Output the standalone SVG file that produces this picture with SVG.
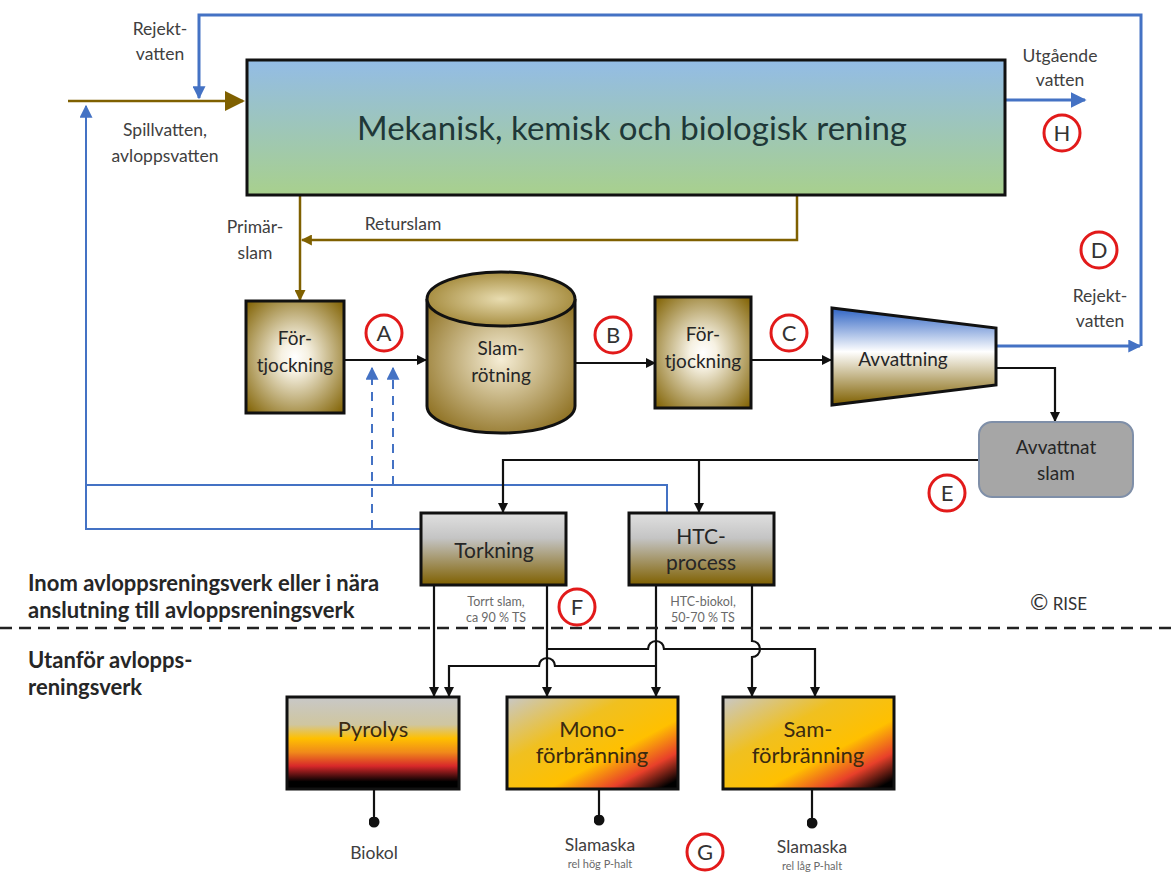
<svg xmlns="http://www.w3.org/2000/svg" width="1174" height="872" viewBox="0 0 1174 872">
<style>
  .lbl{font-family:Lato,"Open Sans","Liberation Sans",sans-serif;font-size:17.5px;fill:#404040;text-anchor:middle}
  .node{font-family:Lato,"Open Sans","Liberation Sans",sans-serif;font-size:19px;fill:#262626;text-anchor:middle}
  .nodeL{font-family:Lato,"Open Sans","Liberation Sans",sans-serif;font-size:21px;fill:#262626;text-anchor:middle}
  .nodeXL{font-family:Lato,"Open Sans","Liberation Sans",sans-serif;font-size:22px;fill:#3a2a10;text-anchor:middle}
  .small{font-family:Lato,"Open Sans","Liberation Sans",sans-serif;font-size:12.5px;fill:#6a6a6a;text-anchor:middle}
  .tiny{font-family:Lato,"Open Sans","Liberation Sans",sans-serif;font-size:11px;fill:#6a6a6a;text-anchor:middle}
  .zone{font-family:Lato,"Open Sans","Liberation Sans",sans-serif;font-size:22px;font-weight:bold;fill:#262626}
  .tag{fill:#ffffff;stroke:#e21a1a;stroke-width:3}
  .tagt{font-family:Lato,"Open Sans","Liberation Sans",sans-serif;font-size:22px;fill:#333;text-anchor:middle}
  .blk{fill:none;stroke:#111;stroke-width:2.2}
  .brn{fill:none;stroke:#7f6000;stroke-width:2.5}
  .blu{fill:none;stroke:#4472c4;stroke-width:3}
  .blu2{fill:none;stroke:#4472c4;stroke-width:2}
  .box{stroke:#111;stroke-width:3}
</style>
<defs>
  <marker id="ab" viewBox="0 0 10 10" refX="9" refY="5" markerWidth="10" markerHeight="10" markerUnits="userSpaceOnUse" orient="auto"><path d="M0,0 L10,5 L0,10 z" fill="#111"/></marker>
  <marker id="abr" viewBox="0 0 10 10" refX="9" refY="5" markerWidth="11" markerHeight="11" markerUnits="userSpaceOnUse" orient="auto"><path d="M0,0 L10,5 L0,10 z" fill="#7f6000"/></marker>
  <marker id="abrBig" viewBox="0 0 10 10" refX="9" refY="5" markerWidth="20" markerHeight="20" markerUnits="userSpaceOnUse" orient="auto"><path d="M0,0 L10,5 L0,10 z" fill="#7f6000"/></marker>
  <marker id="abl" viewBox="0 0 10 10" refX="9" refY="5" markerWidth="13" markerHeight="13" markerUnits="userSpaceOnUse" orient="auto"><path d="M0,0 L10,5 L0,10 z" fill="#4472c4"/></marker>
  <marker id="ablBig" viewBox="0 0 10 10" refX="9" refY="5" markerWidth="16" markerHeight="16" markerUnits="userSpaceOnUse" orient="auto"><path d="M0,0 L10,5 L0,10 z" fill="#4472c4"/></marker>
  <marker id="dot" viewBox="0 0 10 10" refX="5" refY="5" markerWidth="11" markerHeight="11" markerUnits="userSpaceOnUse"><circle cx="5" cy="5" r="5" fill="#111"/></marker>
  <linearGradient id="gMain" x1="0" y1="0" x2="0" y2="1"><stop offset="0" stop-color="#93bce6"/><stop offset="1" stop-color="#a8d08d"/></linearGradient>
  <radialGradient id="gThick" cx="0.5" cy="0.5" r="0.7"><stop offset="0" stop-color="#ffffff"/><stop offset="0.2" stop-color="#f6f1e2"/><stop offset="1" stop-color="#7f6000"/></radialGradient>
  <radialGradient id="gCyl" cx="0.5" cy="0.45" r="0.65"><stop offset="0" stop-color="#f6eed6"/><stop offset="1" stop-color="#8c6e1e"/></radialGradient>
  <radialGradient id="gCylTop" cx="0.5" cy="0.5" r="0.6"><stop offset="0" stop-color="#e8dcb0"/><stop offset="1" stop-color="#9b7f2c"/></radialGradient>
  <linearGradient id="gAvv" x1="0" y1="0" x2="0" y2="1"><stop offset="0" stop-color="#2f64c4"/><stop offset="0.45" stop-color="#ffffff"/><stop offset="1" stop-color="#7f6000"/></linearGradient>
  <linearGradient id="gDry" x1="0" y1="0" x2="0" y2="1"><stop offset="0" stop-color="#e0e0e0"/><stop offset="0.35" stop-color="#c4c4c4"/><stop offset="1" stop-color="#7f6000"/></linearGradient>
  <linearGradient id="gPyr" x1="0" y1="0" x2="0" y2="1"><stop offset="0" stop-color="#c8c8c8"/><stop offset="0.3" stop-color="#cfc6a0"/><stop offset="0.45" stop-color="#ffc000"/><stop offset="0.6" stop-color="#f08a1a"/><stop offset="0.75" stop-color="#d8282a"/><stop offset="0.92" stop-color="#000000"/><stop offset="1" stop-color="#000000"/></linearGradient>
  <linearGradient id="gBurn" x1="0" y1="0" x2="1" y2="1"><stop offset="0" stop-color="#c8c8c8"/><stop offset="0.35" stop-color="#f0c020"/><stop offset="0.62" stop-color="#ffc000"/><stop offset="0.8" stop-color="#e8402a"/><stop offset="0.95" stop-color="#000000"/><stop offset="1" stop-color="#000000"/></linearGradient>
</defs>

<!-- connectors -->
<g id="connectors">
  <path class="brn" d="M68,101 H243" stroke-width="6" marker-end="url(#abrBig)"/>
  <path class="blu" d="M1141,346 V15 H199 V98" marker-end="url(#abl)"/>
  <path class="blu" d="M1005,100 H1085" stroke-width="4" marker-end="url(#ablBig)"/>
  <path class="blu" d="M996,346 H1140" marker-end="url(#abl)"/>
  <path class="blu2" d="M420,529 H86 V106" marker-end="url(#abl)"/>
  <path class="blu2" d="M86,485 H667 V514"/>
  <path class="blu2" d="M372,529 V368" stroke-dasharray="9,7" marker-end="url(#abl)"/>
  <path class="blu2" d="M393,485 V368" stroke-dasharray="9,7" marker-end="url(#abl)"/>
  <path class="brn" d="M300,195 V300" stroke-width="3" marker-end="url(#abr)"/>
  <path class="brn" d="M797,195 V240 H302" stroke-width="2" marker-end="url(#abr)"/>
  <path class="blk" d="M344,360 H426" marker-end="url(#ab)"/>
  <path class="blk" d="M575,363 H655" marker-end="url(#ab)"/>
  <path class="blk" d="M751,360 H831" marker-end="url(#ab)"/>
  <path class="blk" d="M996,368 H1055 V421" marker-end="url(#ab)"/>
  <path class="blk" d="M979,460 H503 V512" marker-end="url(#ab)"/>
  <path class="blk" d="M699,460 V512" marker-end="url(#ab)"/>
  <path class="blk" d="M434,585 V696" marker-end="url(#ab)"/>
  <path class="blk" d="M547,585 V696" marker-end="url(#ab)"/>
  <path class="blk" d="M547,649 H648 a8,8 0 0 1 16,0 H815 V696" marker-end="url(#ab)"/>
  <path class="blk" d="M656,585 V696" marker-end="url(#ab)"/>
  <path class="blk" d="M656,666 H555 a8,8 0 0 0 -16,0 H449 V696" marker-end="url(#ab)"/>
  <path class="blk" d="M752,585 V641 a8,8 0 0 1 0,16 V696" marker-end="url(#ab)"/>
  <path class="blk" d="M374,789 V822" marker-end="url(#dot)"/>
  <path class="blk" d="M599,789 V820" marker-end="url(#dot)"/>
  <path class="blk" d="M812,789 V823" marker-end="url(#dot)"/>
  <path d="M0,628 H1174" stroke="#222" stroke-width="2.5" stroke-dasharray="12,7" fill="none"/>
</g>

<!-- nodes -->
<g id="main">
  <rect x="247" y="60" width="758" height="135" fill="url(#gMain)" class="box" stroke-width="3.5"/>
  <text x="632" y="140" font-family="Lato,'Open Sans','Liberation Sans',sans-serif" font-size="33" fill="#1f3838" text-anchor="middle">Mekanisk, kemisk och biologisk rening</text>
</g>
<g id="fortjockning1">
  <rect x="246" y="301" width="98" height="112" fill="url(#gThick)" class="box"/>
  <text class="node" x="295" y="345">För-</text>
  <text class="node" x="295" y="372">tjockning</text>
</g>
<g id="slamrotning">
  <path d="M427,299 V406 A74,27 0 0 0 575,406 V299" fill="url(#gCyl)" stroke="#111" stroke-width="3"/>
  <ellipse cx="501" cy="299" rx="74" ry="27" fill="url(#gCylTop)" stroke="#111" stroke-width="3"/>
  <text class="node" x="501" y="355">Slam-</text>
  <text class="node" x="501" y="382">rötning</text>
</g>
<g id="fortjockning2">
  <rect x="655" y="297" width="96" height="111" fill="url(#gThick)" class="box"/>
  <text class="node" x="703" y="341">För-</text>
  <text class="node" x="703" y="368">tjockning</text>
</g>
<g id="avvattning">
  <path d="M832,308 L996,328 V385 L832,405 Z" fill="url(#gAvv)" stroke="#111" stroke-width="3"/>
  <text class="node" x="903" y="366">Avvattning</text>
</g>
<g id="avvattnatslam">
  <rect x="979" y="422" width="154" height="75" rx="13" fill="#a6a6a6" stroke="#7f8fa8" stroke-width="2"/>
  <text class="node" x="1056" y="454">Avvattnat</text>
  <text class="node" x="1056" y="480">slam</text>
</g>
<g id="torkning">
  <rect x="421" y="513" width="145" height="72" fill="url(#gDry)" class="box"/>
  <text class="nodeL" x="494" y="558">Torkning</text>
</g>
<g id="htc">
  <rect x="629" y="513" width="145" height="72" fill="url(#gDry)" class="box"/>
  <text class="nodeL" x="701" y="544">HTC-</text>
  <text class="nodeL" x="701" y="570">process</text>
</g>
<g id="pyrolys">
  <rect x="287" y="697" width="172" height="92" fill="url(#gPyr)" class="box"/>
  <text class="nodeXL" x="373" y="737">Pyrolys</text>
</g>
<g id="mono">
  <rect x="507" y="697" width="171" height="92" fill="url(#gBurn)" class="box"/>
  <text class="nodeXL" x="592" y="737">Mono-</text>
  <text class="nodeXL" x="592" y="763">förbränning</text>
</g>
<g id="sam">
  <rect x="723" y="697" width="171" height="92" fill="url(#gBurn)" class="box"/>
  <text class="nodeXL" x="808" y="737">Sam-</text>
  <text class="nodeXL" x="808" y="763">förbränning</text>
</g>

<!-- labels -->
<g id="labels">
  <text class="lbl" x="160" y="35">Rejekt-</text>
  <text class="lbl" x="160" y="60">vatten</text>
  <text class="lbl" x="165" y="136">Spillvatten,</text>
  <text class="lbl" x="165" y="162">avloppsvatten</text>
  <text class="lbl" x="1060" y="62">Utgående</text>
  <text class="lbl" x="1060" y="86">vatten</text>
  <text class="lbl" x="255" y="233">Primär-</text>
  <text class="lbl" x="255" y="259">slam</text>
  <text class="lbl" x="403" y="230">Returslam</text>
  <text class="lbl" x="1100" y="302">Rejekt-</text>
  <text class="lbl" x="1100" y="327">vatten</text>
  <text class="small" x="496" y="606">Torrt slam,</text>
  <text class="small" x="496" y="622">ca 90 % TS</text>
  <text class="small" x="703" y="606">HTC-biokol,</text>
  <text class="small" x="703" y="622">50-70 % TS</text>
  <text class="zone" x="28" y="591">Inom avloppsreningsverk eller i nära</text>
  <text class="zone" x="28" y="618">anslutning till avloppsreningsverk</text>
  <text class="zone" x="28" y="668">Utanför avlopps-</text>
  <text class="zone" x="28" y="695">reningsverk</text>
  <text x="1030" y="610" font-family="Lato,'Open Sans','Liberation Sans',sans-serif" font-size="17" fill="#333"><tspan font-size="22">©</tspan> RISE</text>
  <text class="lbl" x="374" y="859" font-size="18.5">Biokol</text>
  <text class="lbl" x="600" y="851" font-size="18.5">Slamaska</text>
  <text class="tiny" x="600" y="868">rel hög P-halt</text>
  <text class="lbl" x="812" y="853" font-size="18.5">Slamaska</text>
  <text class="tiny" x="812" y="870">rel låg P-halt</text>
</g>

<!-- markers -->
<g id="tags">
  <circle class="tag" cx="384" cy="333" r="18"/><text class="tagt" x="384" y="341">A</text>
  <circle class="tag" cx="613" cy="335" r="18"/><text class="tagt" x="613" y="343">B</text>
  <circle class="tag" cx="789" cy="333" r="18"/><text class="tagt" x="789" y="341">C</text>
  <circle class="tag" cx="1099" cy="250" r="18"/><text class="tagt" x="1099" y="258">D</text>
  <circle class="tag" cx="947" cy="493" r="18"/><text class="tagt" x="947" y="501">E</text>
  <circle class="tag" cx="577" cy="607" r="18"/><text class="tagt" x="577" y="615">F</text>
  <circle class="tag" cx="705" cy="852" r="18"/><text class="tagt" x="705" y="860">G</text>
  <circle class="tag" cx="1062" cy="133" r="18"/><text class="tagt" x="1062" y="141">H</text>
</g>
</svg>
